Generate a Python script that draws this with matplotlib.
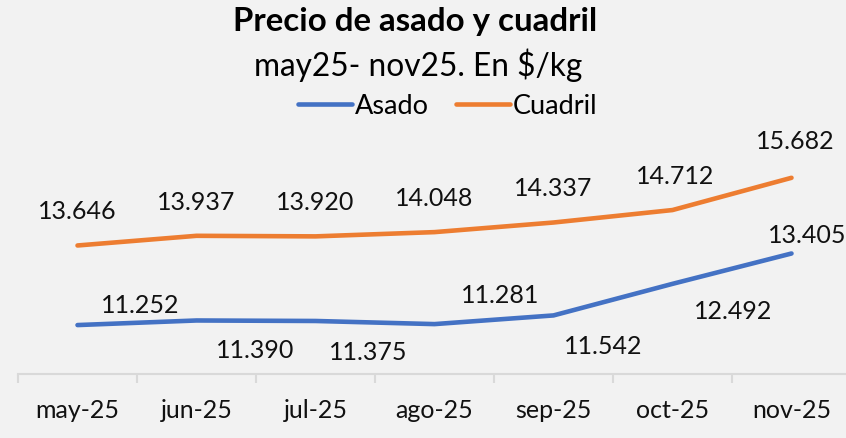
import matplotlib.pyplot as plt
from matplotlib.ticker import FixedLocator

meses = ["may-25", "jun-25", "jul-25", "ago-25", "sep-25", "oct-25", "nov-25"]
asado = [11252, 11390, 11375, 11281, 11542, 12492, 13405]
cuadril = [13646, 13937, 13920, 14048, 14337, 14712, 15682]

# offsets (pt) of the data labels, placed by hand in the original
asado_off = [(45, 15), (42, -21), (38, -22), (47, 21), (36, -22), (44, -19), (11, 14)]
cuadril_off = [(0, 25), (0, 25), (0, 25), (0, 25), (0, 25), (2, 25), (3, 27)]

def fmt(v):
    return f"{v:,}".replace(",", ".")

def main():
    plt.rcParams["font.family"] = ["Lato", "DejaVu Sans"]
    fig = plt.figure(figsize=(8.46, 4.39), dpi=100)
    fig.patch.set_facecolor("#F2F2F2")
    W, H = 846, 439
    ax = fig.add_axes([18 / W, 1 - 375 / H, 833 / W, 245 / H])
    ax.set_facecolor("none")

    x = list(range(len(meses)))
    ax.plot(x, asado, color="#4472C4", lw=3.3, label="Asado", solid_capstyle="round")
    ax.plot(x, cuadril, color="#ED7D31", lw=3.3, label="Cuadril", solid_capstyle="round")

    for i, v in enumerate(asado):
        ax.annotate(fmt(v), (i, v), xytext=asado_off[i], textcoords="offset points",
                    ha="center", va="center", fontsize=18, color="#111111", annotation_clip=False)
    for i, v in enumerate(cuadril):
        ax.annotate(fmt(v), (i, v), xytext=cuadril_off[i], textcoords="offset points",
                    ha="center", va="center", fontsize=18, color="#111111", annotation_clip=False)

    ax.set_xlim(-0.5, 6.5)
    ax.set_ylim(9780, 17150)
    ax.set_yticks([])
    for s in ["left", "right", "top"]:
        ax.spines[s].set_visible(False)
    ax.spines["bottom"].set_color("#D9D9D9")
    ax.spines["bottom"].set_linewidth(1.5)

    ax.set_xticks(x)
    ax.set_xticklabels(meses, fontsize=18, color="#111111")
    ax.tick_params(axis="x", which="major", length=0, pad=17)
    ax.xaxis.set_minor_locator(FixedLocator([i - 0.5 for i in range(len(meses) + 1)]))
    ax.tick_params(axis="x", which="minor", length=6.5, width=1.5, color="#D9D9D9")

    fig.text(415 / W, 1 - 21 / H, "Precio de asado y cuadril", ha="center", va="center",
             fontsize=23.8, fontweight="bold", color="#000000")
    fig.text(418 / W, 1 - 65 / H, "may25- nov25. En $/kg", ha="center", va="center",
             fontsize=22.8, color="#000000")
    fig.legend(loc="center", bbox_to_anchor=(448 / W, 1 - 107 / H), ncol=2, frameon=False,
               fontsize=19.5, handlelength=2.0, handletextpad=0.1, columnspacing=1.0)

    fig.savefig("out.png", dpi=100, facecolor=fig.get_facecolor())

if __name__ == "__main__":
    main()
